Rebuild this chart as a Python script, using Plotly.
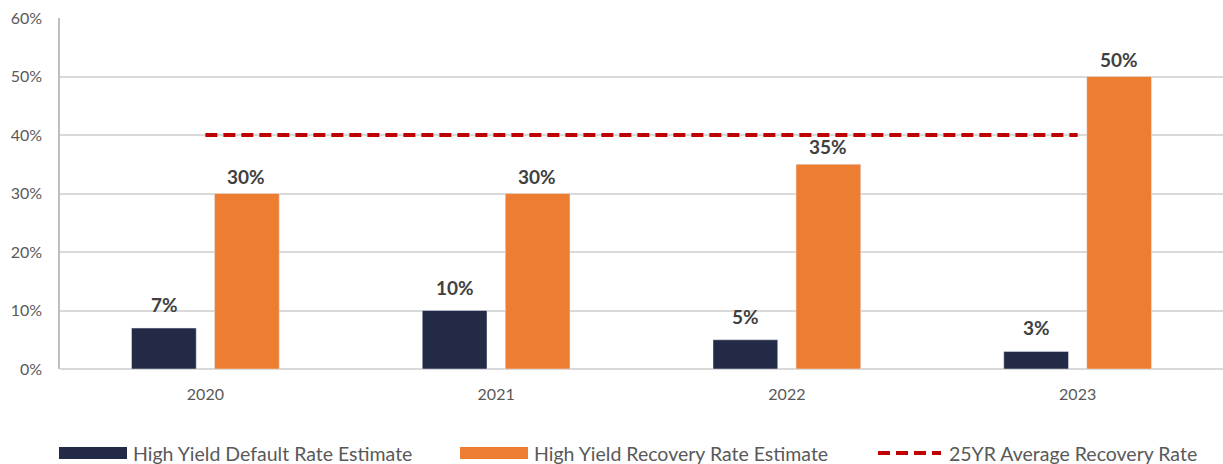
import plotly.graph_objects as go

years = ["2020", "2021", "2022", "2023"]
default_rate = [7, 10, 5, 3]
recovery_rate = [30, 30, 35, 50]
avg_recovery = [40, 40, 40, 40]
y_ticks = [0, 10, 20, 30, 40, 50, 60]
y_tick_text = [f"{v}%" for v in y_ticks]

series_names = [
    "High Yield Default Rate Estimate",
    "High Yield Recovery Rate Estimate",
    "25YR Average Recovery Rate",
]

NAVY = "#222A45"
ORANGE = "#ED7D31"
RED = "#C00000"
FONT = "Lato, 'Open Sans', sans-serif"

W, H = 1223, 464
M = dict(l=60, r=0, t=18, b=95)
plot_w = W - M["l"] - M["r"]
plot_h = H - M["t"] - M["b"]


def px_x(x):
    return (x - M["l"]) / plot_w


def px_y(y):
    return (H - M["b"] - y) / plot_h


fig = go.Figure()
fig.add_bar(x=years, y=default_rate, name=series_names[0], marker_color=NAVY,
            showlegend=False)
fig.add_bar(x=years, y=recovery_rate, name=series_names[1], marker_color=ORANGE,
            showlegend=False)
fig.add_scatter(x=years, y=avg_recovery, mode="lines", name=series_names[2],
                line=dict(color=RED, width=4, dash="12px,6px"), showlegend=False)

# value labels above each bar (category index on the x axis)
for i, (d, r) in enumerate(zip(default_rate, recovery_rate)):
    for val, xshift, yshift in ((d, -41, 10), (r, 41, 4)):
        fig.add_annotation(x=i, y=val, text=f"<b>{val}%</b>", showarrow=False,
                           xshift=xshift, yshift=yshift, yanchor="bottom",
                           font=dict(family=FONT, size=19, color="#404040"))

# legend row drawn below the axis
legend_y = 453
swatches = [(59, 127, NAVY, "rect"), (460, 528, ORANGE, "rect"), (876, 943, RED, "line")]
for (x0, x1, col, kind), name in zip(swatches, series_names):
    if kind == "rect":
        fig.add_shape(type="rect", xref="paper", yref="paper",
                      x0=px_x(x0), x1=px_x(x1), y0=px_y(legend_y - 6), y1=px_y(legend_y + 6),
                      fillcolor=col, line_width=0)
    else:
        fig.add_shape(type="line", xref="paper", yref="paper",
                      x0=px_x(x0 + 2), x1=px_x(x1 - 2), y0=px_y(legend_y), y1=px_y(legend_y),
                      line=dict(color=col, width=4, dash="12px,6px"))
    fig.add_annotation(xref="paper", yref="paper", x=px_x(x1 + 4), y=px_y(legend_y),
                       text=name, showarrow=False, xanchor="left", yanchor="middle",
                       font=dict(family=FONT, size=19.5, color="#595959"))

fig.update_layout(
    width=W, height=H, margin=M,
    paper_bgcolor="white", plot_bgcolor="white",
    barmode="group", bargap=0.429, bargroupgap=0.22,
    font=dict(family=FONT, size=16, color="#595959"),
    xaxis=dict(type="category", range=[-0.5, len(years) - 0.5],
               showgrid=False, showline=False, ticks="", zeroline=False,
               ticklabelstandoff=14, tickfont=dict(size=16, color="#595959")),
    yaxis=dict(range=[0, 60], tickvals=y_ticks, ticktext=y_tick_text,
               showgrid=True, gridcolor="#D9D9D9", gridwidth=1.5,
               zeroline=True, zerolinecolor="#D9D9D9", zerolinewidth=1.5,
               showline=True, linecolor="#BFBFBF", linewidth=1.5,
               ticks="", ticklabelstandoff=13, tickfont=dict(size=16, color="#595959")),
)

fig.write_html("out.html")
